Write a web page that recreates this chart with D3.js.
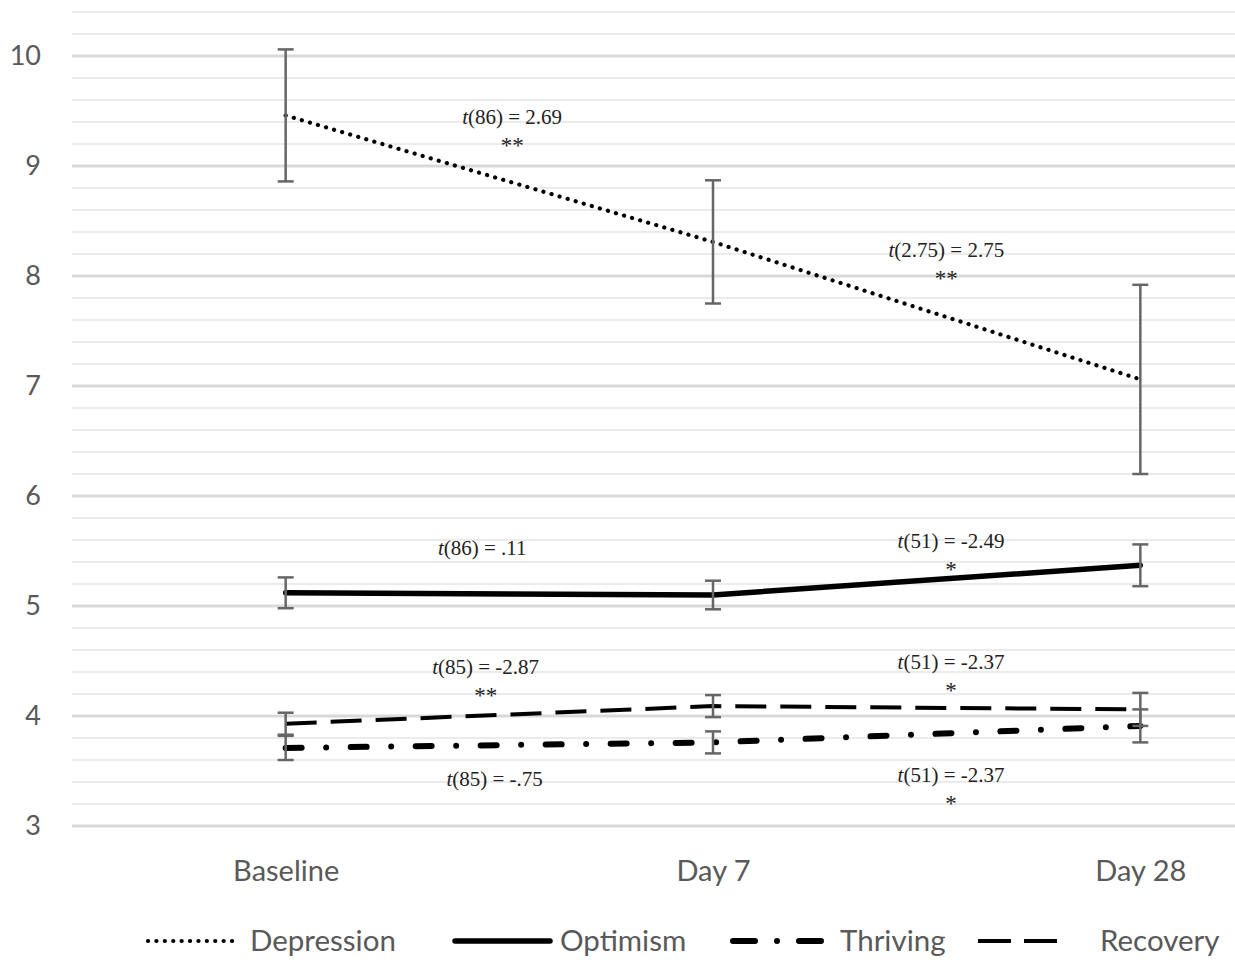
<!DOCTYPE html>
<html>
<head>
<meta charset="utf-8">
<script src="https://cdn.jsdelivr.net/npm/d3@7"></script>
<style>
  body { margin: 0; background: #fff; }
  svg { display: block; }
</style>
</head>
<body>
<script>
// data
var categories = ["Baseline", "Day 7", "Day 28"];
var depression = [9.46, 8.31, 7.06];
var depressionErr = [0.60, 0.56, 0.86];
var optimism = [5.12, 5.10, 5.37];
var optimismErr = [0.14, 0.13, 0.19];
var thriving = [3.71, 3.76, 3.91];
var thrivingErr = [0.11, 0.10, 0.15];
var recovery = [3.93, 4.09, 4.06];
var recoveryErr = [0.10, 0.10, 0.15];
var yTicks = [3, 4, 5, 6, 7, 8, 9, 10];

// t-test notes: x in category steps, y in scale units
var notes = [
  {x: 0.53, y: 9.445, df: "(86) = 2.69", stars: "**"},
  {x: 1.546, y: 8.236, df: "(2.75) = 2.75", stars: "**"},
  {x: 0.46, y: 5.527, df: "(86) = .11", stars: ""},
  {x: 1.557, y: 5.59, df: "(51) = -2.49", stars: "*"},
  {x: 0.468, y: 4.445, df: "(85) = -2.87", stars: "**"},
  {x: 1.557, y: 4.49, df: "(51) = -2.37", stars: "*"},
  {x: 0.489, y: 3.427, df: "(85) = -.75", stars: ""},
  {x: 1.557, y: 3.464, df: "(51) = -2.37", stars: "*"}
];

var width = 1235;
var height = 960;
var left = 72;
var sans = "Lato, 'Open Sans', sans-serif";
var serif = "'Liberation Serif', 'Times New Roman', serif";

var series = [
  {name: "Depression", values: depression, err: depressionErr, w: 4.2, dash: "0.1 8.3", cap: "round"},
  {name: "Optimism", values: optimism, err: optimismErr, w: 5.5, dash: null, cap: "round"},
  {name: "Thriving", values: thriving, err: thrivingErr, w: 6, dash: "16 24.5 0 24.5", cap: "round"},
  {name: "Recovery", values: recovery, err: recoveryErr, w: 4, dash: "31 14", cap: "butt"}
];

var svg = d3.select("body").append("svg")
  .attr("width", width)
  .attr("height", height);

var x = d3.scalePoint().domain(categories).range([left, 1354]).padding(0.5);
var y = d3.scaleLinear().domain([3, 10.4]).range([826, 12]);

// gridlines every 0.2
var grid = d3.range(0, 38).map(function(i) { return +(3 + i * 0.2).toFixed(1); });
svg.append("g").selectAll("line").data(grid).enter().append("line")
  .attr("x1", left).attr("x2", width)
  .attr("y1", function(d) { return y(d); })
  .attr("y2", function(d) { return y(d); })
  .attr("stroke", function(d) { return Number.isInteger(d) ? "#d9d9d9" : "#ebebeb"; })
  .attr("stroke-width", function(d) { return Number.isInteger(d) ? 3 : 2; });

// y axis labels
var yAxis = d3.axisLeft(y).tickValues(yTicks).tickSize(0).tickPadding(0).tickFormat(d3.format("d"));
var ya = svg.append("g").attr("transform", "translate(41,0)").call(yAxis);
ya.select(".domain").remove();
ya.selectAll("text")
  .attr("font-family", sans)
  .attr("font-size", 27)
  .attr("fill", "#595959");

// x axis labels
var xAxis = d3.axisBottom(x).tickSize(0).tickPadding(0);
var xa = svg.append("g").attr("transform", "translate(0,860)").call(xAxis);
xa.select(".domain").remove();
xa.selectAll("text")
  .attr("font-family", sans)
  .attr("font-size", 29)
  .attr("fill", "#595959");

var line = d3.line()
  .x(function(d, i) { return x(categories[i]); })
  .y(function(d) { return y(d); });

// lines
series.forEach(function(s) {
  svg.append("path")
    .datum(s.values)
    .attr("d", line)
    .attr("fill", "none")
    .attr("stroke", "#000")
    .attr("stroke-width", s.w)
    .attr("stroke-linecap", s.cap)
    .attr("stroke-dasharray", s.dash);
});

// error bars on top
series.forEach(function(s) {
  var g = svg.append("g").attr("stroke", "#666").attr("stroke-width", 2.5);
  s.values.forEach(function(v, i) {
    var cx = x(categories[i]);
    var hi = y(v + s.err[i]);
    var lo = y(v - s.err[i]);
    g.append("line").attr("x1", cx).attr("x2", cx).attr("y1", hi).attr("y2", lo);
    g.append("line").attr("x1", cx - 8).attr("x2", cx + 8).attr("y1", hi).attr("y2", hi);
    g.append("line").attr("x1", cx - 8).attr("x2", cx + 8).attr("y1", lo).attr("y2", lo);
  });
});

// notes
var x0 = x(categories[0]);
var step = x.step();
notes.forEach(function(n) {
  var t = svg.append("text")
    .attr("x", x0 + n.x * step)
    .attr("y", y(n.y))
    .attr("dy", "0.35em")
    .attr("text-anchor", "middle")
    .attr("font-family", serif)
    .attr("font-size", 21)
    .attr("fill", "#222");
  t.append("tspan").attr("font-style", "italic").text("t");
  t.append("tspan").text(n.df);
  if (n.stars) {
    svg.append("text")
      .attr("x", x0 + n.x * step)
      .attr("y", y(n.y))
      .attr("dy", "1.58em")
      .attr("text-anchor", "middle")
      .attr("font-family", serif)
      .attr("font-size", 23)
      .attr("fill", "#222")
      .text(n.stars);
  }
});

// legend
var legendX = [148, 455, 733, 978];
var legendLen = [88, 95, 93, 92];
var legendDash = ["0.1 8.3", null, "22 22 0 22", "33 13"];
var legendTextX = [250, 560, 840, 1100];
var lg = svg.append("g");
series.forEach(function(s, i) {
  lg.append("line")
    .attr("x1", legendX[i]).attr("x2", legendX[i] + legendLen[i])
    .attr("y1", 941).attr("y2", 941)
    .attr("stroke", "#000")
    .attr("stroke-width", s.w)
    .attr("stroke-linecap", s.cap)
    .attr("stroke-dasharray", legendDash[i]);
  lg.append("text")
    .attr("x", legendTextX[i])
    .attr("y", 941)
    .attr("dy", "0.35em")
    .attr("font-family", sans)
    .attr("font-size", 29.5)
    .attr("fill", "#595959")
    .text(s.name);
});
</script>
</body>
</html>
